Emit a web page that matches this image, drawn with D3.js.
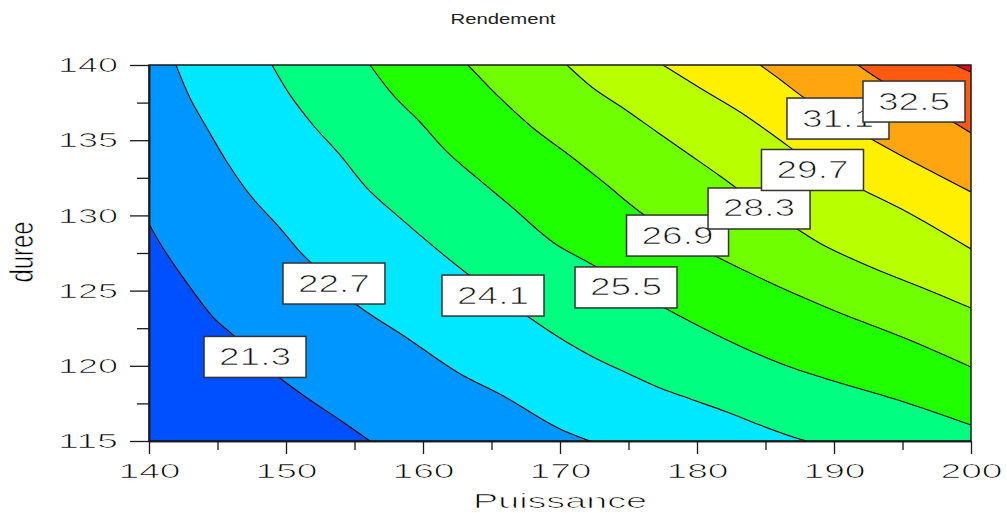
<!DOCTYPE html>
<html>
<head>
<meta charset="utf-8">
<script src="https://cdn.jsdelivr.net/npm/d3@7"></script>
<style>
  html, body { margin: 0; padding: 0; background: #fff; }
  svg { display: block; }
  text { font-family: "Liberation Sans", Arial, sans-serif; fill: #1a1a1a; }
  text.thin { stroke: #fff; stroke-width: 0.7px; paint-order: fill; }
</style>
</head>
<body>
<svg id="chart" width="1007" height="513"></svg>
<script>
// ---------- data ----------
const title = "Rendement";
const xLabel = "Puissance";
const yLabel = "duree";
const xDomain = [140, 200];
const yDomain = [115, 140];
const xTicks = [140, 150, 160, 170, 180, 190, 200];
const xMinorTicks = [145, 155, 165, 175, 185, 195];
const yTicks = [115, 120, 125, 130, 135, 140];
const yMinorTicks = [117.5, 122.5, 127.5, 132.5, 137.5];

const levels = [21.3, 22.7, 24.1, 25.5, 26.9, 28.3, 29.7, 31.1, 32.5, 33.9];
const bandColors = ["#0050ff", "#0096ff", "#00e8ff", "#00ff80", "#20ff00",
                    "#70ff00", "#b8ff00", "#fff000", "#ffa510", "#ff5a10", "#ff0000"];

// contour lines as [Puissance, duree] points
const line213 = [[140,129.43],[141.02,127.83],[142.77,125.51],[144.67,123.24],[146.13,122.05],
  [148.10,120.39],[149.56,119.19],[151.97,117.59],[153.94,116.40],[156.13,115]];
const line227 = [[141.97,140],[142.99,137.81],[144.23,135.81],[145.69,133.55],[147.37,131.36],
  [149.56,129.16],[151.24,127.37],[153.21,125.70],[155.18,124.04],[158.83,121.85],[162.48,119.59],
  [166.13,117.86],[168.54,116.53],[170.0,115.80],[172.19,115]];
const line241 = [[148.98,140],[150.29,138.01],[151.97,136.01],[153.94,134.02],[155.91,131.82],
  [158.32,129.83],[161.24,127.57],[163.07,126.24],[165.33,124.71],[167.59,123.31],[170.0,121.85],
  [172.41,120.59],[174.89,119.52],[177.30,118.52],[179.71,117.73],[182.19,116.93],[184.60,116.06],
  [187.01,115.27],[188.03,115]];
const line255 = [[156.13,140],[157.81,138.01],[159.78,136.21],[161.75,134.22],[163.94,132.49],
  [166.57,130.49],[168.54,128.90],[169.78,128.03],[172.41,126.70],[175.11,125.24],[177.66,123.84],
  [179.71,122.85],[182.19,121.72],[184.60,120.72],[187.01,119.85],[189.71,119.06],[195.33,117.53],
  [200,116.06]];
const line269 = [[163.28,140],[165.62,137.81],[168.03,135.81],[170.95,133.82],[173.43,132.02],
  [175.84,130.23],[178.54,128.63],[181.17,127.37],[185.55,125.44],[187.52,124.64],[190.44,123.51],
  [195.33,121.78],[200,119.92]];
const line283 = [[170.51,140],[172.41,138.47],[174.60,137.14],[177.08,135.55],[179.49,134.02],
  [181.68,132.62],[184.60,130.69],[187.30,129.10],[189.20,128.03],[192.85,126.50],[196.50,125.17],
  [200,123.84]];
const line297 = [[177.52,140],[180.22,138.47],[183.14,136.87],[185.55,135.35],[188.61,133.35],
  [192.12,131.69],[195.33,130.23],[200,127.77]];
const line311 = [[184.60,140],[186.20,138.94],[187.74,137.87],[190.29,136.34],[192.85,135.01],
  [194.82,134.02],[200,131.56]];
const line325 = [[191.75,140],[193.14,139.14],[195.91,137.67],[198.69,136.21],[200,135.48]];
const line339 = [[198.83,140],[200,139.53]];
const contourLines = [line213, line227, line241, line255, line269, line283, line297, line311, line325, line339];

// label anchors (value, Puissance, duree)
const labelValues = ["21.3", "22.7", "24.1", "25.5", "26.9", "28.3", "29.7", "31.1", "32.5"];
const labelP = [147.74, 153.50, 165.11, 174.82, 178.58, 184.53, 188.43, 190.29, 195.84];
const labelD = [120.59, 125.47, 124.67, 125.21, 128.66, 130.46, 133.02, 136.44, 137.57];

// ---------- drawing ----------
const svg = d3.select("#chart");
const L = 149, R = 971, T = 65, B = 441;
const x = d3.scaleLinear().domain(xDomain).range([L, R]);
const y = d3.scaleLinear().domain(yDomain).range([B, T]);

const defs = svg.append("defs");
defs.append("clipPath").attr("id", "plotClip")
  .append("rect").attr("x", L).attr("y", T).attr("width", R - L).attr("height", B - T);

const plot = svg.append("g").attr("clip-path", "url(#plotClip)");

plot.append("rect").attr("x", L).attr("y", T).attr("width", R - L).attr("height", B - T)
  .attr("fill", bandColors[0]);

const lineGen = d3.line().x(d => x(d[0])).y(d => y(d[1])).curve(d3.curveCatmullRom.alpha(0.5));

contourLines.forEach((pts, i) => {
  const start = pts[0], end = pts[pts.length - 1];
  let p = lineGen(pts);
  if (end[1] === yDomain[0]) p += `L${x(xDomain[1])},${y(yDomain[0])}`;
  p += `L${x(xDomain[1])},${y(yDomain[1])}`;
  if (start[0] === xDomain[0]) p += `L${x(xDomain[0])},${y(yDomain[1])}`;
  p += "Z";
  plot.append("path").attr("d", p).attr("fill", bandColors[i + 1]).attr("stroke", "none");
});

contourLines.forEach(pts => {
  plot.append("path").attr("d", lineGen(pts)).attr("fill", "none")
    .attr("stroke", "#000").attr("stroke-width", 1.1);
});

// labels
const BW = 102, BH = 41;
labelValues.forEach((v, i) => {
  const cx = x(labelP[i]), cy = y(labelD[i]);
  const g = svg.append("g");
  g.append("rect").attr("x", cx - BW / 2).attr("y", cy - BH / 2).attr("width", BW).attr("height", BH)
    .attr("fill", "#fff").attr("stroke", "#333").attr("stroke-width", 1.5);
  g.append("text").attr("class", "thin").attr("x", cx).attr("y", cy + 8).attr("text-anchor", "middle")
    .attr("font-size", 23).attr("textLength", 72).attr("lengthAdjust", "spacingAndGlyphs")
    .style("fill", "#111").text(v);
});

// frame
svg.append("rect").attr("x", L).attr("y", T).attr("width", R - L).attr("height", B - T)
  .attr("fill", "none").attr("stroke", "#1a1a1a").attr("stroke-width", 1.5);

// axes
const xAxis = svg.append("g").attr("transform", `translate(0,${B})`)
  .call(d3.axisBottom(x).tickValues(xTicks).tickSize(13).tickSizeOuter(0).tickPadding(9)
    .tickFormat(d3.format("d")));
const xMinor = svg.append("g").attr("transform", `translate(0,${B})`)
  .call(d3.axisBottom(x).tickValues(xMinorTicks).tickSize(9).tickSizeOuter(0).tickFormat(""));
const yAxis = svg.append("g").attr("transform", `translate(${L},0)`)
  .call(d3.axisLeft(y).tickValues(yTicks).tickSize(19).tickSizeOuter(0).tickPadding(12)
    .tickFormat(d3.format("d")));
const yMinor = svg.append("g").attr("transform", `translate(${L},0)`)
  .call(d3.axisLeft(y).tickValues(yMinorTicks).tickSize(12).tickSizeOuter(0).tickFormat(""));

[xAxis, xMinor, yAxis, yMinor].forEach(g => {
  g.select(".domain").attr("stroke", "#1a1a1a").attr("stroke-width", 1.5);
  g.selectAll(".tick line").attr("stroke", "#1a1a1a").attr("stroke-width", 1.3);
});
xAxis.selectAll(".tick text").attr("class", "thin").attr("font-size", 21).attr("font-family", null)
  .attr("textLength", 62).attr("lengthAdjust", "spacingAndGlyphs").style("fill", "#000");
yAxis.selectAll(".tick text").attr("class", "thin").attr("font-size", 21).attr("font-family", null)
  .attr("textLength", 60).attr("lengthAdjust", "spacingAndGlyphs").style("fill", "#000");

// titles
svg.append("text").attr("x", 503).attr("y", 24).attr("text-anchor", "middle")
  .attr("font-size", 14).attr("textLength", 105).attr("lengthAdjust", "spacingAndGlyphs")
  .style("fill", "#222").text(title);
svg.append("text").attr("class", "thin").attr("x", 560).attr("y", 508).attr("text-anchor", "middle")
  .attr("font-size", 21).attr("textLength", 174).attr("lengthAdjust", "spacingAndGlyphs")
  .style("fill", "#000").text(xLabel);
svg.append("text").attr("class", "thin").attr("transform", "translate(33,252) rotate(-90)").attr("text-anchor", "middle")
  .attr("font-size", 33).attr("textLength", 61).attr("lengthAdjust", "spacingAndGlyphs")
  .style("fill", "#000").text(yLabel);
</script>
</body>
</html>
